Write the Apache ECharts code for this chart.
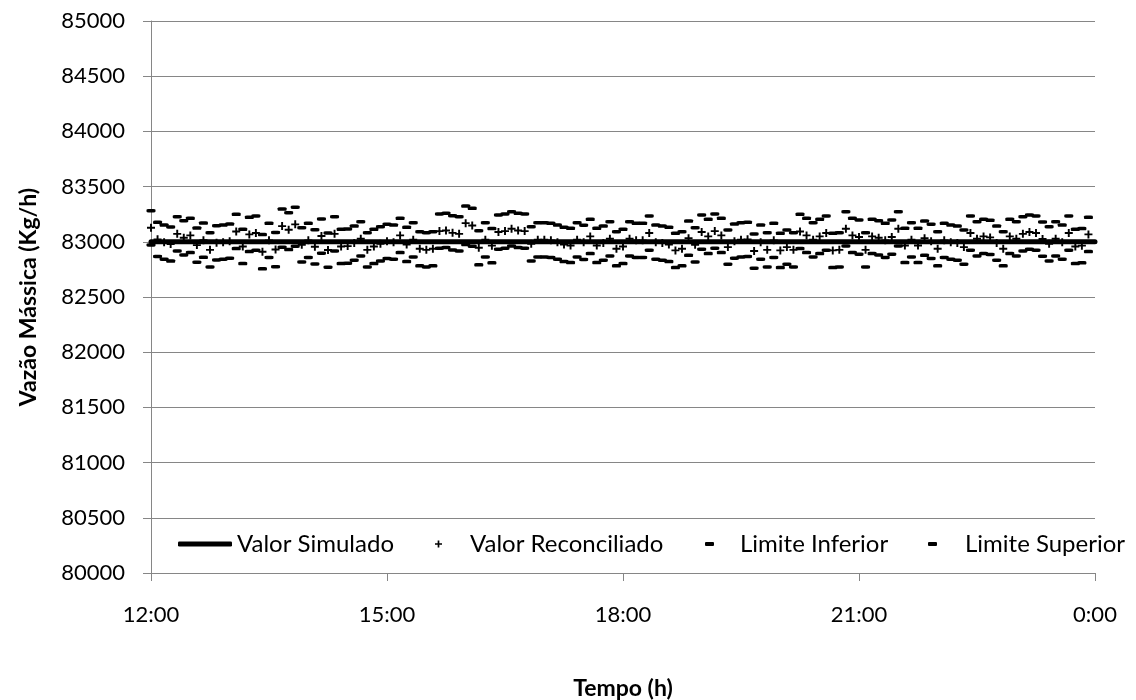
<!DOCTYPE html>
<html>
<head>
<meta charset="utf-8">
<script src="https://cdn.jsdelivr.net/npm/echarts@6/dist/echarts.min.js"></script>
<style>
  html, body { margin: 0; padding: 0; background: #fff; }
  #chart { width: 1136px; height: 700px; }
</style>
</head>
<body>
<div id="chart"></div>
<script>
// Amostragem a cada 5 minutos, de 12:00 até 23:55 (minutos desde 12:00)
const passoMin = 5;

// Valor simulado (constante ao longo do período)
const valorSimulado = 83000;

// Valor reconciliado (Kg/h)
const reconciliado = [
  83127,83022,82997,82980,83072,83036,83058,82970,83015,82927,
  82991,82997,83006,83094,82958,83067,83079,82910,83013,82930,
  83142,83109,83158,82973,83013,82955,83052,82925,83072,82958,
  82961,82988,83027,82927,82958,82982,83004,82997,83058,82976,
  83018,82937,82927,82937,83097,83103,83081,83072,83169,83148,
  82946,83018,82965,83088,83097,83118,83103,83097,82982,83018,
  83018,83013,82997,82976,82967,83018,82995,83049,82967,82988,
  83027,82937,82958,83027,83013,83013,83079,82997,82988,82976,
  82922,82937,83033,82973,83088,83049,83097,83058,82952,83006,
  83018,83022,82916,82997,82927,83013,82922,82952,82927,83094,
  83058,83018,83049,83079,82922,82927,83118,83058,83043,82927,
  83049,83036,83013,83043,83118,82967,83018,82967,83033,83004,
  82937,83013,82997,82988,82952,83079,83027,83049,83040,82988,
  82937,83049,83027,83072,83088,83079,83025,82982,83027,82997,
  83079,82958,82965,83067
];

// Limite inferior (Kg/h)
const limiteInferior = [
  82972,82867,82842,82825,82917,82881,82903,82815,82860,82772,
  82836,82842,82851,82939,82803,82912,82924,82755,82858,82775,
  82950,82930,82960,82818,82858,82800,82897,82770,82917,82803,
  82806,82833,82872,82772,82803,82827,82849,82842,82903,82821,
  82863,82782,82772,82782,82942,82948,82926,82917,82975,82960,
  82791,82863,82810,82933,82942,82963,82948,82942,82827,82863,
  82863,82858,82842,82821,82812,82863,82840,82894,82812,82833,
  82872,82782,82803,82872,82858,82858,82924,82842,82833,82821,
  82767,82782,82878,82818,82933,82894,82942,82903,82797,82851,
  82863,82867,82761,82842,82772,82858,82767,82797,82772,82939,
  82903,82863,82894,82924,82767,82772,82963,82903,82888,82772,
  82894,82881,82858,82888,82963,82812,82863,82812,82878,82849,
  82782,82858,82842,82833,82797,82924,82872,82894,82885,82833,
  82782,82894,82872,82917,82933,82924,82870,82827,82872,82842,
  82924,82803,82810,82912
];

// Limite superior (Kg/h)
const limiteSuperior = [
  83282,83177,83152,83135,83227,83191,83213,83125,83170,83082,
  83146,83152,83161,83249,83113,83222,83234,83065,83168,83085,
  83297,83264,83313,83128,83168,83110,83207,83080,83227,83113,
  83116,83143,83182,83082,83113,83137,83159,83152,83213,83131,
  83173,83092,83082,83092,83252,83258,83236,83227,83324,83303,
  83101,83173,83120,83243,83252,83273,83258,83252,83137,83173,
  83173,83168,83152,83131,83122,83173,83150,83204,83122,83143,
  83182,83092,83113,83182,83168,83168,83234,83152,83143,83131,
  83077,83092,83188,83128,83243,83204,83252,83213,83107,83161,
  83173,83177,83071,83152,83082,83168,83077,83107,83082,83249,
  83213,83173,83204,83234,83077,83082,83273,83213,83198,83082,
  83204,83191,83168,83198,83273,83122,83173,83122,83188,83159,
  83092,83168,83152,83143,83107,83234,83182,83204,83195,83143,
  83092,83204,83182,83227,83243,83234,83180,83137,83182,83152,
  83234,83113,83120,83222
];

// Eixo do tempo: 12:00 a 0:00, marcas a cada 3 h
const tempoInicioH = 12;
const tempoFimMin = 720;
const tempoPassoMin = 180;

// Eixo da vazão
const vazaoMin = 80000;
const vazaoMax = 85000;
const vazaoPasso = 500;

const paraPares = (arr) => arr.map((v, i) => [i * passoMin, v]);

const FONTE = 'Lato, "Open Sans", sans-serif';
const CINZA = '#868686';
const PLUS = 'path://M3.8,0H6.2V3.8H10V6.2H6.2V10H3.8V6.2H0V3.8H3.8Z';

const chart = echarts.init(document.getElementById('chart'), null, { renderer: 'canvas' });

const legendaBase = {
  top: 532,
  padding: 0,
  itemGap: 0,
  textStyle: { fontFamily: FONTE, fontSize: 24, color: '#000' },
  inactiveColor: '#000',
  selectedMode: false
};

chart.setOption({
  animation: false,
  backgroundColor: '#ffffff',
  textStyle: { fontFamily: FONTE },
  grid: { left: 151, right: 41, top: 21, bottom: 127, outerBoundsMode: 'none', containLabel: false },
  legend: [
    Object.assign({}, legendaBase, {
      left: 178, itemWidth: 54, itemHeight: 5,
      data: [{ name: 'Valor Simulado', icon: 'roundRect', itemStyle: { color: '#000' } }]
    }),
    Object.assign({}, legendaBase, {
      left: 435, itemWidth: 7, itemHeight: 7,
      textStyle: Object.assign({}, legendaBase.textStyle, { padding: [0, 0, 0, 23] }),
      data: [{ name: 'Valor Reconciliado', icon: PLUS, itemStyle: { color: '#000' } }]
    }),
    Object.assign({}, legendaBase, {
      left: 705, itemWidth: 9, itemHeight: 4,
      textStyle: Object.assign({}, legendaBase.textStyle, { padding: [0, 0, 0, 21] }),
      data: [{ name: 'Limite Inferior', icon: 'roundRect', itemStyle: { color: '#000' } }]
    }),
    Object.assign({}, legendaBase, {
      left: 928, itemWidth: 9, itemHeight: 4,
      textStyle: Object.assign({}, legendaBase.textStyle, { padding: [0, 0, 0, 23] }),
      data: [{ name: 'Limite Superior', icon: 'roundRect', itemStyle: { color: '#000' } }]
    })
  ],
  xAxis: {
    type: 'value',
    min: 0,
    max: tempoFimMin,
    interval: tempoPassoMin,
    name: 'Tempo (h)',
    nameLocation: 'middle',
    nameGap: 104,
    nameTextStyle: { fontFamily: FONTE, fontSize: 23, fontWeight: 'bold', color: '#000' },
    axisLine: { show: true, lineStyle: { color: CINZA, width: 1 } },
    axisTick: { show: true, inside: false, length: 8, lineStyle: { color: CINZA } },
    splitLine: { show: false },
    axisLabel: {
      margin: 31,
      fontFamily: FONTE, fontSize: 22, color: '#000',
      formatter: (v) => ((tempoInicioH + v / 60) % 24) + ':00'
    }
  },
  yAxis: {
    type: 'value',
    min: vazaoMin,
    max: vazaoMax,
    interval: vazaoPasso,
    name: 'Vazão Mássica (Kg/h)',
    nameLocation: 'middle',
    nameGap: 111,
    nameTextStyle: { fontFamily: FONTE, fontSize: 23, fontWeight: 'bold', color: '#000' },
    axisLine: { show: true, lineStyle: { color: CINZA, width: 1 } },
    axisTick: { show: true, inside: false, length: 8, lineStyle: { color: CINZA } },
    splitLine: { show: true, lineStyle: { color: CINZA, width: 1 } },
    axisLabel: {
      margin: 26, fontFamily: FONTE, fontSize: 22, color: '#000',
      formatter: (v) => String(v)
    }
  },
  series: [
    {
      name: 'Valor Simulado',
      type: 'line',
      showSymbol: false,
      symbol: 'none',
      lineStyle: { color: '#000', width: 5, cap: 'round' },
      itemStyle: { color: '#000' },
      data: [[0, valorSimulado], [tempoFimMin, valorSimulado]],
      z: 2
    },
    {
      name: 'Valor Reconciliado',
      type: 'scatter',
      symbol: PLUS,
      symbolSize: 8,
      itemStyle: { color: '#000', opacity: 1 },
      data: paraPares(reconciliado),
      z: 3
    },
    {
      name: 'Limite Inferior',
      type: 'scatter',
      symbol: 'roundRect',
      symbolSize: [9, 3.5],
      itemStyle: { color: '#000', opacity: 1 },
      data: paraPares(limiteInferior),
      z: 4
    },
    {
      name: 'Limite Superior',
      type: 'scatter',
      symbol: 'roundRect',
      symbolSize: [9, 3.5],
      itemStyle: { color: '#000', opacity: 1 },
      data: paraPares(limiteSuperior),
      z: 4
    }
  ]
});
</script>
</body>
</html>
